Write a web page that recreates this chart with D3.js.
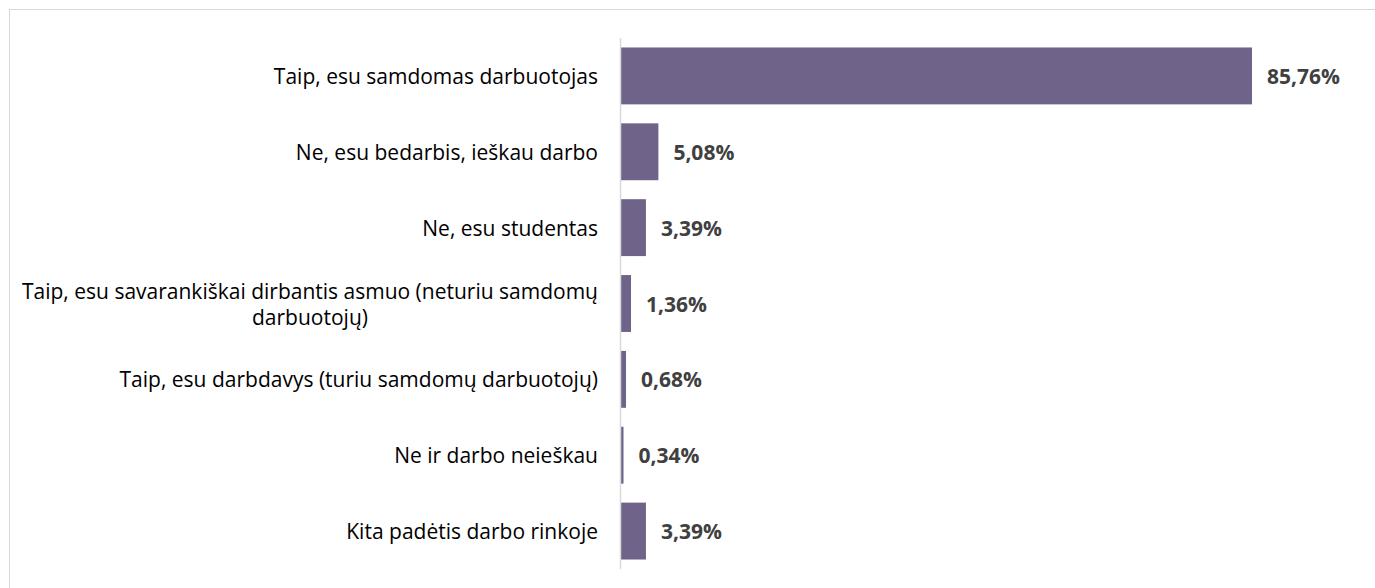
<!DOCTYPE html>
<html>
<head>
<meta charset="utf-8">
<script src="https://cdn.jsdelivr.net/npm/d3@7"></script>
<style>
  body { margin: 0; background: #fff; }
  svg { display: block; }
</style>
</head>
<body>
<div class="chart"></div>
<script>
// kategorijos ir reikšmės (%)
const categories = [
  "Taip, esu samdomas darbuotojas",
  "Ne, esu bedarbis, ieškau darbo",
  "Ne, esu studentas",
  "Taip, esu savarankiškai dirbantis asmuo (neturiu samdomų darbuotojų)",
  "Taip, esu darbdavys (turiu samdomų darbuotojų)",
  "Ne ir darbo neieškau",
  "Kita padėtis darbo rinkoje"
];
const values = [85.76, 5.08, 3.39, 1.36, 0.68, 0.34, 3.39];

const width = 1375;
const height = 588;

const svg = d3.select(".chart")
  .append("svg")
  .attr("width", width)
  .attr("height", height);

// rėmelis (matoma tik viršutinė ir kairė kraštinė)
svg.append("rect")
  .attr("x", 9.5)
  .attr("y", 9.5)
  .attr("width", width)
  .attr("height", height)
  .attr("fill", "none")
  .attr("stroke", "#d9d9d9")
  .attr("stroke-width", 1);

const x0 = 621;
const x = d3.scaleLinear()
  .domain([0, 85.76])
  .range([x0, 1252]);

const y = d3.scaleBand()
  .domain(categories)
  .range([38, 569])
  .paddingInner(0.25)
  .paddingOuter(0.125);

// juostos
svg.selectAll(".bar")
  .data(values)
  .enter()
  .append("rect")
  .attr("class", "bar")
  .attr("x", x(0))
  .attr("y", (d, i) => y(categories[i]))
  .attr("width", d => x(d) - x(0))
  .attr("height", y.bandwidth())
  .attr("fill", "#6f6389");

// ašis
svg.append("line")
  .attr("x1", x0 - 0.5)
  .attr("x2", x0 - 0.5)
  .attr("y1", 38)
  .attr("y2", 569)
  .attr("stroke", "#d9d9d9")
  .attr("stroke-width", 1.5);

// kategorijų pavadinimai
const labelFont = "'Open Sans', 'Noto Sans', sans-serif";
const labels = svg.selectAll(".cat")
  .data(categories)
  .enter()
  .append("text")
  .attr("class", "cat")
  .attr("text-anchor", "middle")
  .attr("font-family", labelFont)
  .attr("font-size", "21px")
  .attr("fill", "#000");

labels.each(function(d) {
  const t = d3.select(this);
  const cy = y(d) + y.bandwidth() / 2;
  // laužom ilgą tekstą į kelias eilutes
  const words = d.split(" ");
  const lines = [];
  let line = [];
  const tmp = t.append("tspan");
  words.forEach(w => {
    line.push(w);
    tmp.text(line.join(" "));
    if (tmp.node().getComputedTextLength() > 590 && line.length > 1) {
      line.pop();
      lines.push(line.join(" "));
      line = [w];
    }
  });
  lines.push(line.join(" "));
  tmp.remove();

  const lh = 26;
  let maxW = 0;
  const spans = lines.map((l, k) => t.append("tspan")
    .attr("dy", k === 0 ? 0 : lh)
    .text(l));
  spans.forEach(s => { maxW = Math.max(maxW, s.node().getComputedTextLength()); });
  const cx = 598 - maxW / 2;
  spans.forEach(s => s.attr("x", cx));
  t.attr("y", cy - (lines.length - 1) * lh / 2).attr("dominant-baseline", "central");
});

// reikšmių etiketės
svg.selectAll(".val")
  .data(values)
  .enter()
  .append("text")
  .attr("class", "val")
  .attr("x", d => x(d) + 15)
  .attr("y", (d, i) => y(categories[i]) + y.bandwidth() / 2)
  .attr("dominant-baseline", "central")
  .attr("font-family", labelFont)
  .attr("font-size", "21px")
  .attr("font-weight", "bold")
  .attr("fill", "#404040")
  .text(d => d.toFixed(2).replace(".", ",") + "%");
</script>
</body>
</html>
